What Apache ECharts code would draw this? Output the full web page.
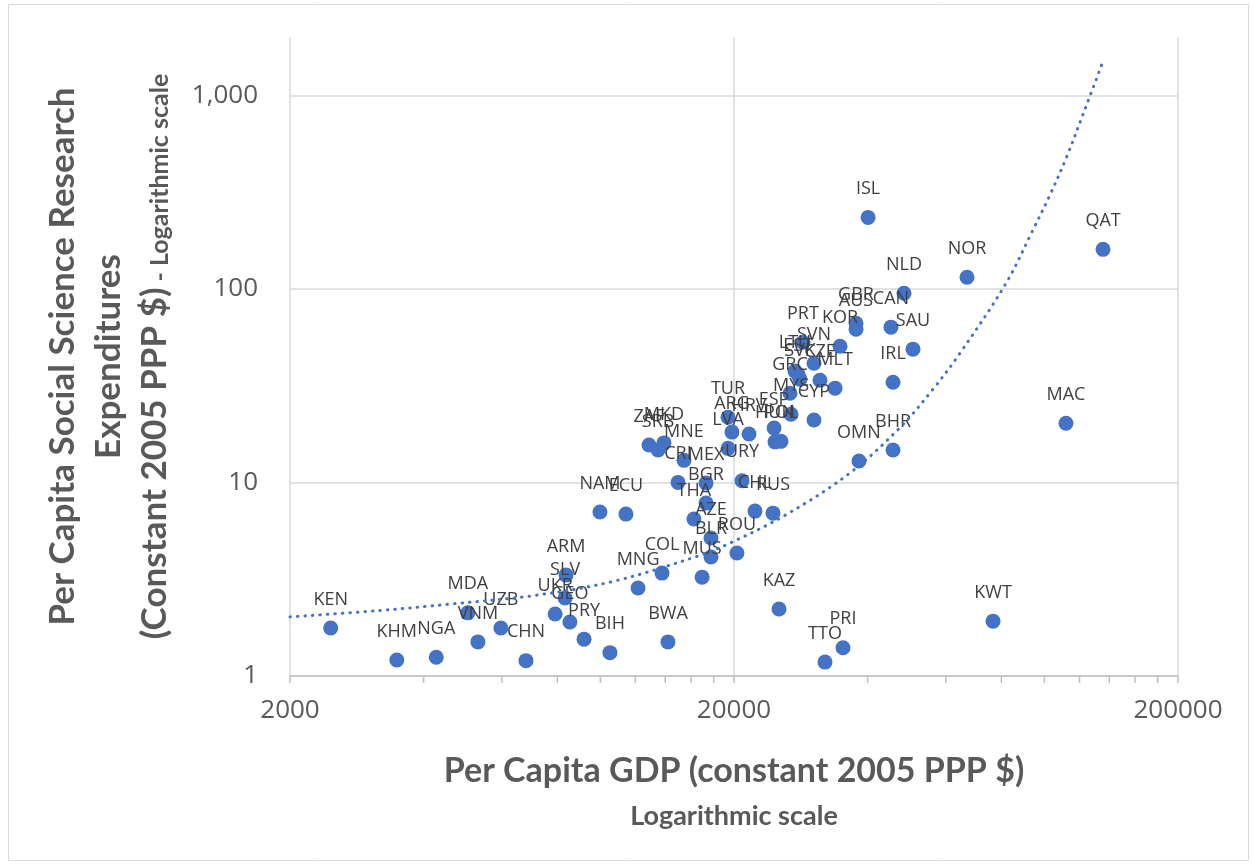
<!DOCTYPE html>
<html>
<head>
<meta charset="utf-8">
<title>Per Capita Social Science Research Expenditures vs GDP</title>
<script src="https://cdn.jsdelivr.net/npm/echarts@6/dist/echarts.min.js"></script>
<style>
  html, body { margin: 0; padding: 0; background: #ffffff; }
  #chart { width: 1254px; height: 865px; }
</style>
</head>
<body>
<div id="chart"></div>
<script>
// Country codes (ISO3), per capita GDP and per capita social science research spending
const countries = ['KEN','KHM','NGA','VNM','MDA','UZB','CHN','UKR','ARM','SLV','GEO','PRY','BIH','NAM','ECU','MNG','COL','BWA','ZAF','SRB','MKD','MNE','CRI','MEX','BGR','THA','AZE','BLR','ROU','MUS','URY','CHL','RUS','TUR','ARG','HRV','LVA','ESP','HUN','POL','MYS','CYP','GRC','LTU','EST','SVK','CZE','SVN','MLT','PRT','KOR','GBR','AUS','CAN','NLD','SAU','IRL','NOR','ISL','QAT','OMN','BHR','MAC','KAZ','TTO','PRI','KWT'];
const gdpPerCapita = [2470,3480,4270,5300,5030,5970,6800,7910,8370,8330,8540,9190,10510,9980,11420,12160,13770,14200,12870,13490,13910,15430,14960,17300,17300,16250,17750,17750,20310,16950,20850,22300,24480,19390,19790,21620,19390,24620,24740,25520,26880,30280,26740,27440,27880,28160,31240,30280,33780,28600,34660,37660,37660,45140,48300,50600,45620,66960,40090,135580,38240,45620,111880,25260,32060,35200,76640];
const researchSpend = [1.77,1.21,1.25,1.50,2.12,1.77,1.20,2.09,3.32,2.53,1.90,1.55,1.32,7.03,6.86,2.85,3.40,1.50,15.6,14.7,16.0,13.0,10.0,9.92,7.82,6.47,5.16,4.12,4.32,3.24,10.2,7.11,6.94,21.7,18.2,17.8,15.0,19.1,16.2,16.3,22.5,21.0,28.9,37.6,36.2,34.1,33.7,41.3,30.7,53.0,50.5,66.4,61.9,63.4,94.9,48.8,32.9,114.8,234,160,12.9,14.7,20.2,2.22,1.18,1.40,1.92];

// Exponential trend curve, sampled along its course
const trendGdp = [2000,3190,4660,7050,10680,16520,19290,26300,36500,47300,56060,64560,82000,94100,103000,112460,122360,134860];
const trendSpend = [2.02,2.18,2.36,2.60,3.08,4.15,4.78,6.85,11.2,19.2,30.2,46.5,107,200,306,485,803,1450];

// Axis ticks
const xTickValues = [2000, 20000, 200000];
const xTickLabels = ['2000', '20000', '200000'];
const xMinorTicks = [4000,6000,8000,10000,12000,14000,16000,18000,40000,60000,80000,100000,120000,140000,160000,180000];
const yTickValues = [1, 10, 100, 1000];
const yTickLabels = ['1', '10', '100', '1,000'];

const X_MIN = 2000, X_MAX = 200000, Y_MIN = 1, Y_MAX = 2000;
const decades = Math.log10(X_MAX / X_MIN);

const GRID = '#d9d9d9';
const AXIS = '#bfbfbf';
const TEXT = '#595959';
const BLUE = '#4472C4';

function lookup(values, labels, v) {
  const i = values.findIndex(t => Math.abs(t - v) <= t * 1e-6);
  return i < 0 ? '' : labels[i];
}

const points = countries.map((c, i) => [gdpPerCapita[i], researchSpend[i], c]);
const trend = trendGdp.map((g, i) => [g, trendSpend[i]]);
const minorTickData = xMinorTicks.map(v => [v, Y_MIN]);

const chart = echarts.init(document.getElementById('chart'), null, { renderer: 'canvas' });

chart.setOption({
  backgroundColor: '#ffffff',
  animation: false,
  graphic: [{
    type: 'rect',
    shape: { x: 8.5, y: 4.5, width: 1240, height: 856 },
    style: { fill: 'none', stroke: GRID, lineWidth: 1 },
    silent: true,
    z: -10
  }],
  grid: {
    left: 290, right: 76, top: 37, bottom: 189,
    containLabel: false,
    outerBoundsMode: 'none'
  },
  xAxis: [
    {
      // data axis (logarithmic)
      type: 'log',
      logBase: 10,
      min: X_MIN,
      max: X_MAX,
      axisLine: { show: false },
      axisTick: { show: false },
      axisLabel: { show: false },
      splitLine: { show: false }
    },
    {
      // decade axis carrying the ticks, labels and grid lines
      type: 'value',
      position: 'bottom',
      min: 0,
      max: decades,
      interval: 1,
      axisLine: { show: true, lineStyle: { color: AXIS, width: 1.5 } },
      axisTick: { show: true, length: 7, lineStyle: { color: AXIS, width: 1.5 } },
      axisLabel: {
        margin: 22,
        fontFamily: 'Open Sans',
        fontSize: 26,
        color: TEXT,
        formatter: v => lookup(xTickValues, xTickLabels, X_MIN * Math.pow(10, v))
      },
      splitLine: { show: true, lineStyle: { color: GRID, width: 1.5 } },
      name: '{t|Per Capita GDP (constant 2005 PPP $)}\n{s|Logarithmic scale}',
      nameLocation: 'middle',
      nameGap: 73,
      nameTextStyle: {
        rich: {
          t: { fontFamily: 'Lato', fontWeight: 'bold', fontSize: 34, color: TEXT, lineHeight: 44 },
          s: { fontFamily: 'Lato', fontWeight: 'bold', fontSize: 27, color: TEXT, lineHeight: 46 }
        }
      }
    }
  ],
  yAxis: {
    type: 'log',
    logBase: 10,
    min: Y_MIN,
    max: Y_MAX,
    axisLine: { show: false },
    axisTick: { show: false },
    axisLabel: {
      margin: 32,
      fontFamily: 'Open Sans',
      fontSize: 26,
      color: TEXT,
      showMaxLabel: false,
      formatter: v => lookup(yTickValues, yTickLabels, v)
    },
    splitLine: { show: true, showMaxLine: false, lineStyle: { color: GRID, width: 1.5 } },
    name: '{a|Per Capita Social Science Research}\n{a|Expenditures}\n{a|(Constant 2005 PPP $)}{b| - Logarithmic scale}',
    nameLocation: 'middle',
    nameGap: 118,
    nameTextStyle: {
      rich: {
        a: { fontFamily: 'Lato', fontWeight: 'bold', fontSize: 35, color: TEXT, lineHeight: 46, verticalAlign: 'bottom' },
        b: { fontFamily: 'Lato', fontWeight: 'bold', fontSize: 25, color: TEXT, lineHeight: 39, verticalAlign: 'bottom' }
      }
    }
  },
  series: [
    {
      name: 'Minor ticks',
      type: 'custom',
      xAxisIndex: 0,
      yAxisIndex: 0,
      silent: true,
      clip: false,
      data: minorTickData,
      renderItem: (params, api) => {
        const p = api.coord([api.value(0), api.value(1)]);
        return {
          type: 'line',
          shape: { x1: p[0], y1: p[1], x2: p[0], y2: p[1] + 7 },
          style: { stroke: AXIS, lineWidth: 1.5 }
        };
      }
    },
    {
      name: 'Countries',
      type: 'scatter',
      xAxisIndex: 0,
      yAxisIndex: 0,
      data: points,
      symbol: 'circle',
      symbolSize: 15,
      itemStyle: { color: BLUE, opacity: 1 },
      label: {
        show: true,
        position: 'top',
        distance: 12,
        formatter: p => p.data[2],
        fontFamily: 'Open Sans',
        fontSize: 18,
        color: '#404040'
      },
      z: 3
    },
    {
      name: 'Trend (exponential)',
      type: 'line',
      xAxisIndex: 0,
      yAxisIndex: 0,
      data: trend,
      showSymbol: false,
      smooth: 0.35,
      silent: true,
      lineStyle: { color: BLUE, width: 3, type: [0.5, 7], cap: 'round' },
      z: 4
    }
  ]
});
</script>
</body>
</html>
